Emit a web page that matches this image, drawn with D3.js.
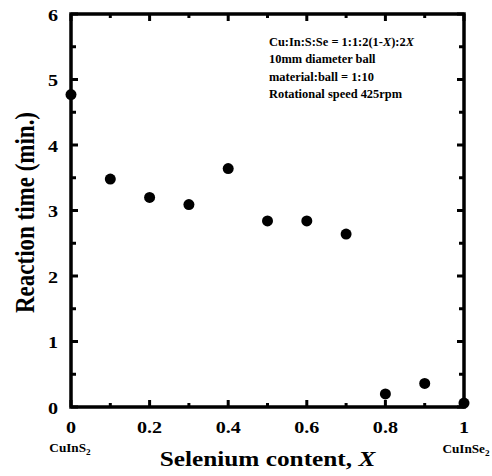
<!DOCTYPE html>
<html>
<head>
<meta charset="utf-8">
<script src="https://cdn.jsdelivr.net/npm/d3@7"></script>
<style>
  body { margin: 0; background: #fff; }
  text { font-family: "Liberation Serif", "Times New Roman", serif; font-weight: bold; }
</style>
</head>
<body>
<svg id="chart"></svg>
<script>
const seContent = [0, 0.1, 0.2, 0.3, 0.4, 0.5, 0.6, 0.7, 0.8, 0.9, 1.0];
const reactionTime = [4.77, 3.48, 3.20, 3.09, 3.64, 2.84, 2.84, 2.64, 0.20, 0.36, 0.06];
const xTicks = [0, 0.2, 0.4, 0.6, 0.8, 1];
const xTickLabels = ["0", "0.2", "0.4", "0.6", "0.8", "1"];
const yTicks = [0, 1, 2, 3, 4, 5, 6];
const notes = ["Cu:In:S:Se = 1:1:2(1-X):2X", "10mm diameter ball", "material:ball = 1:10", "Rotational speed 425rpm"];

const width = 492, height = 476;
const margin = { left: 71, right: 28, top: 14, bottom: 69 };
const sx = 1.15; // the original text is a bit wider than Times

const svg = d3.select("#chart").attr("width", width).attr("height", height);

const x = d3.scaleLinear().domain([0, 1]).range([margin.left, width - margin.right]);
const y = d3.scaleLinear().domain([0, 6]).range([height - margin.bottom, margin.top]);

const x0 = x(0), x1 = x(1), y0 = y(0), y1 = y(6);

function label(px, py, size, anchor, stretch) {
  return svg.append("text")
    .attr("transform", `translate(${px},${py}) scale(${stretch || sx},1)`)
    .attr("text-anchor", anchor || "middle")
    .attr("font-size", size);
}

// inward ticks on all four sides
const xMajor = d3.range(0, 1.0001, 0.2), xMinor = d3.range(0.1, 1, 0.2);
const yMajor = d3.range(0, 6.0001, 1), yMinor = d3.range(0.5, 6, 1);
const tk = svg.append("g").attr("stroke", "#000").attr("stroke-width", 3);

function vTicks(vals, len) {
  vals.forEach(v => {
    tk.append("line").attr("x1", x(v)).attr("x2", x(v)).attr("y1", y0).attr("y2", y0 - len);
    tk.append("line").attr("x1", x(v)).attr("x2", x(v)).attr("y1", y1).attr("y2", y1 + len);
  });
}
function hTicks(vals, len) {
  vals.forEach(v => {
    tk.append("line").attr("y1", y(v)).attr("y2", y(v)).attr("x1", x0).attr("x2", x0 + len);
    tk.append("line").attr("y1", y(v)).attr("y2", y(v)).attr("x1", x1).attr("x2", x1 - len);
  });
}
vTicks(xMajor, 7); vTicks(xMinor, 4);
hTicks(yMajor, 7); hTicks(yMinor, 5);

svg.append("rect")
  .attr("x", x0).attr("y", y1)
  .attr("width", x1 - x0).attr("height", y0 - y1)
  .attr("fill", "none").attr("stroke", "#000").attr("stroke-width", 3.5);

// tick labels
xTicks.forEach((d, i) => label(x(d), y0 + 26, 17.5).text(xTickLabels[i]));
yTicks.forEach(d => label(x0 - 13, y(d) + 6.5, 17.5, "end").text(d));

// end-member labels
const cs = label(x(0) - 1, y0 + 45, 11.5);
cs.append("tspan").text("CuInS");
cs.append("tspan").attr("font-size", 8).attr("dy", 2.5).text("2");

const cse = label(x(1) + 2, y0 + 46, 11.5);
cse.append("tspan").text("CuInSe");
cse.append("tspan").attr("font-size", 8).attr("dy", 2.5).text("2");

// axis titles
const xt = label((x0 + x1) / 2, height - 10, 22);
xt.append("tspan").text("Selenium content, ");
xt.append("tspan").attr("font-style", "italic").text("X");

svg.append("text")
  .attr("transform", `translate(34, ${(y0 + y1) / 2 + 2}) scale(${sx},1) rotate(-90)`)
  .attr("text-anchor", "middle").attr("font-size", 23)
  .text("Reaction time (min.)");

// annotation
notes.forEach((t, i) => {
  const tx = label(269, 46 + i * 17.3, 11.5, "start", 1.08);
  if (i === 0) {
    tx.append("tspan").text("Cu:In:S:Se = 1:1:2(1-");
    tx.append("tspan").attr("font-style", "italic").text("X");
    tx.append("tspan").text("):2");
    tx.append("tspan").attr("font-style", "italic").text("X");
  } else {
    tx.text(t);
  }
});

// data points
svg.selectAll(".pt").data(seContent).enter().append("circle")
  .attr("cx", d => x(d))
  .attr("cy", (d, i) => y(reactionTime[i]))
  .attr("r", 5.5)
  .attr("fill", "#000");
</script>
</body>
</html>
